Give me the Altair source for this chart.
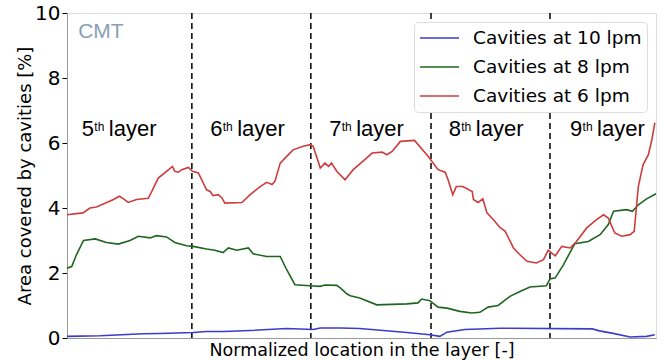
import altair as alt
import pandas as pd

# ---- data (normalized location 0-100, area %) ----
red_x = [0, 2.7, 3.9, 5.0, 7.9, 8.9, 9.6, 10.4, 11.8, 13.8, 14.4, 15.5, 16.9, 17.9, 18.3, 18.9, 19.5,
         20.6, 21.3, 22.3, 23.7, 24.3, 24.8, 25.7, 26.3, 26.8, 29.7, 31.1, 32.8, 33.9, 34.8, 35.3,
         36.2, 37.3, 38.4, 40.1, 41.3, 41.8, 43.0, 43.8, 44.4, 44.9, 45.8, 47.2, 48.6, 50.9, 51.8,
         53.5, 54.3, 55.2, 56.6, 59.0, 61.3, 63.0, 64.2, 64.7, 65.5, 66.1, 67.2, 68.8, 69.0, 69.8,
         70.6, 71.3, 72.4, 73.5, 74.4, 75.8, 76.9, 78.1, 79.7, 80.9, 81.7, 82.9, 84.0, 85.4, 86.5,
         88.2, 89.9, 91.1, 91.9, 93.0, 94.2, 95.6, 96.3, 97.0, 97.8, 98.7, 99.3, 99.8]
red_y = [3.79, 3.85, 4.0, 4.03, 4.26, 4.36, 4.28, 4.17, 4.26, 4.3, 4.51, 4.92, 5.13, 5.28, 5.13, 5.1,
         5.18, 5.25, 5.13, 5.08, 4.56, 4.51, 4.38, 4.41, 4.31, 4.15, 4.17, 4.41, 4.66, 4.79, 4.72,
         4.82, 5.38, 5.59, 5.79, 5.9, 5.95, 5.9, 5.23, 5.38, 5.28, 5.38, 5.13, 4.87, 5.18, 5.54,
         5.69, 5.72, 5.64, 5.74, 6.05, 6.08, 5.59, 5.18, 5.1, 4.87, 4.41, 4.66, 4.66, 4.51, 4.26,
         4.17, 4.28, 3.85, 3.64, 3.4, 3.28, 2.77, 2.56, 2.36, 2.31, 2.41, 2.7, 2.53, 2.82, 2.77,
         2.97, 3.38, 3.64, 3.79, 3.69, 3.23, 3.13, 3.18, 3.28, 4.66, 5.33, 5.64, 6.1, 6.62]

green_x = [0, 0.8, 1.6, 2.8, 4.8, 6.7, 8.7, 10.7, 12.1, 14.1, 15.2, 16.9, 18.3, 20.3, 21.4, 23.7,
           25.1, 26.5, 27.4, 28.8, 30.8, 31.6, 33.9, 36.2, 37.3, 38.7, 41.3, 43.0, 43.8, 45.8,
           46.4, 47.5, 48.1, 49.7, 52.6, 57.7, 59.6, 60.2, 61.6, 63.0, 64.5, 66.7, 68.7, 70.1,
           71.5, 73.2, 75.2, 76.9, 78.6, 81.4, 82.0, 82.9, 84.3, 86.2, 88.5, 90.5, 91.9, 92.8,
           95.0, 96.0, 97.0, 98.4, 100]
green_y = [2.15, 2.2, 2.56, 3.0, 3.05, 2.94, 2.89, 3.0, 3.13, 3.08, 3.15, 3.11, 2.94, 2.84, 2.82,
           2.74, 2.7, 2.63, 2.77, 2.7, 2.77, 2.59, 2.51, 2.51, 2.1, 1.64, 1.61, 1.59, 1.63, 1.62,
           1.54, 1.36, 1.3, 1.23, 1.02, 1.05, 1.08, 1.2, 1.15, 0.95, 0.92, 0.82, 0.77, 0.79,
           0.95, 1.0, 1.28, 1.43, 1.57, 1.61, 1.82, 1.85, 2.26, 2.9, 2.97, 3.18, 3.49, 3.9,
           3.95, 3.9, 4.1, 4.28, 4.44]

blue_x = [0, 5.6, 12.9, 15.8, 21.4, 23.7, 26.6, 31.1, 37.3, 41.8, 43.0, 46.4, 49.7, 57.7, 61.6,
          63.3, 64.5, 67.5, 73.5, 89.2, 90.4, 92.5, 95.6, 98.4, 99.8]
blue_y = [0.05, 0.07, 0.13, 0.14, 0.17, 0.2, 0.2, 0.23, 0.29, 0.26, 0.31, 0.31, 0.29, 0.17, 0.1,
          0.05, 0.18, 0.26, 0.3, 0.28, 0.22, 0.15, 0.03, 0.05, 0.1]

series_names = ["Cavities at 10 lpm", "Cavities at 8 lpm", "Cavities at 6 lpm"]
series_colors = ["#3c3cc8", "#1e661e", "#cc3c3c"]

divider_x = [21.2, 41.4, 61.8, 82.0]
layer_num = ["5", "6", "7", "8", "9"]
layer_center = [8.8, 30.6, 50.8, 71.1, 91.7]
layer_label_y = 6.22

rows = []
for name, xs, ys in [(series_names[0], blue_x, blue_y),
                     (series_names[1], green_x, green_y),
                     (series_names[2], red_x, red_y)]:
    for i, (a, b) in enumerate(zip(xs, ys)):
        rows.append({"series": name, "x": a, "y": b, "order": i})
df = pd.DataFrame(rows)

xscale = alt.Scale(domain=[0, 100], nice=False)
yscale = alt.Scale(domain=[0, 10], nice=False)

lines = alt.Chart(df).mark_line(strokeWidth=1.6).encode(
    x=alt.X("x:Q", scale=xscale,
            axis=alt.Axis(title="Normalized location in the layer [-]", labels=False, ticks=False,
                          grid=False, titleFont="DejaVu Sans", titleFontSize=17.5,
                          titleFontWeight="normal", titleColor="black", titlePadding=3,
                          domainColor="#999")),
    y=alt.Y("y:Q", scale=yscale,
            axis=alt.Axis(title="Area covered by cavities [%]", values=[0, 2, 4, 6, 8, 10],
                          grid=False, labelFont="DejaVu Sans", labelFontSize=20,
                          labelColor="black", tickColor="black", tickSize=5,
                          titleFont="DejaVu Sans", titleFontSize=18, titleFontWeight="normal",
                          titleColor="black", titlePadding=0, domainColor="#999")),
    color=alt.Color("series:N", scale=alt.Scale(domain=series_names, range=series_colors),
                    legend=alt.Legend(title=None, orient="top-right", offset=9,
                                      labelFont="DejaVu Sans", labelFontSize=18.5,
                                      labelColor="black", labelLimit=0, symbolType="stroke",
                                      symbolSize=1521, symbolStrokeWidth=1.6,
                                      clipHeight=22, fillColor="white", strokeColor="#dddddd",
                                      cornerRadius=4, padding=5, rowPadding=7,
                                      labelOffset=13)),
    order="order:Q",
)

div_df = pd.DataFrame({"x": divider_x})
dividers = alt.Chart(div_df).mark_rule(color="black", strokeDash=[6, 4], strokeWidth=1.5).encode(
    x="x:Q"
)

lab_df = pd.DataFrame({"x": layer_center, "num": layer_num,
                       "sup": ["th"] * 5, "word": ["layer"] * 5,
                       "y": [layer_label_y] * 5})
num_text = alt.Chart(lab_df).mark_text(font="Liberation Sans", fontSize=22, align="left",
                                       baseline="alphabetic", dx=-37, color="black").encode(
    x="x:Q", y="y:Q", text="num:N")
sup_text = alt.Chart(lab_df).mark_text(font="Liberation Sans", fontSize=12, align="left",
                                       baseline="alphabetic", dx=-24.5, dy=-5, color="black").encode(
    x="x:Q", y="y:Q", text="sup:N")
word_text = alt.Chart(lab_df).mark_text(font="Liberation Sans", fontSize=22, align="left",
                                        baseline="alphabetic", dx=-10, color="black").encode(
    x="x:Q", y="y:Q", text="word:N")

cmt_df = pd.DataFrame({"x": [1.9], "y": [9.24], "t": ["CMT"]})
cmt = alt.Chart(cmt_df).mark_text(font="Liberation Sans", fontSize=21, align="left",
                                  baseline="alphabetic", color="#8aa0b6").encode(
    x="x:Q", y="y:Q", text="t:N")

chart = alt.layer(dividers, lines, num_text, sup_text, word_text, cmt).properties(
    width=589, height=325,
    autosize=alt.AutoSizeParams(type="none"),
    padding={"left": 67, "top": 13, "right": 10, "bottom": 22},
).configure_view(stroke="#999", strokeWidth=1).configure(background="white")

chart.save("out.html", embed_options={"renderer": "svg", "actions": False})
